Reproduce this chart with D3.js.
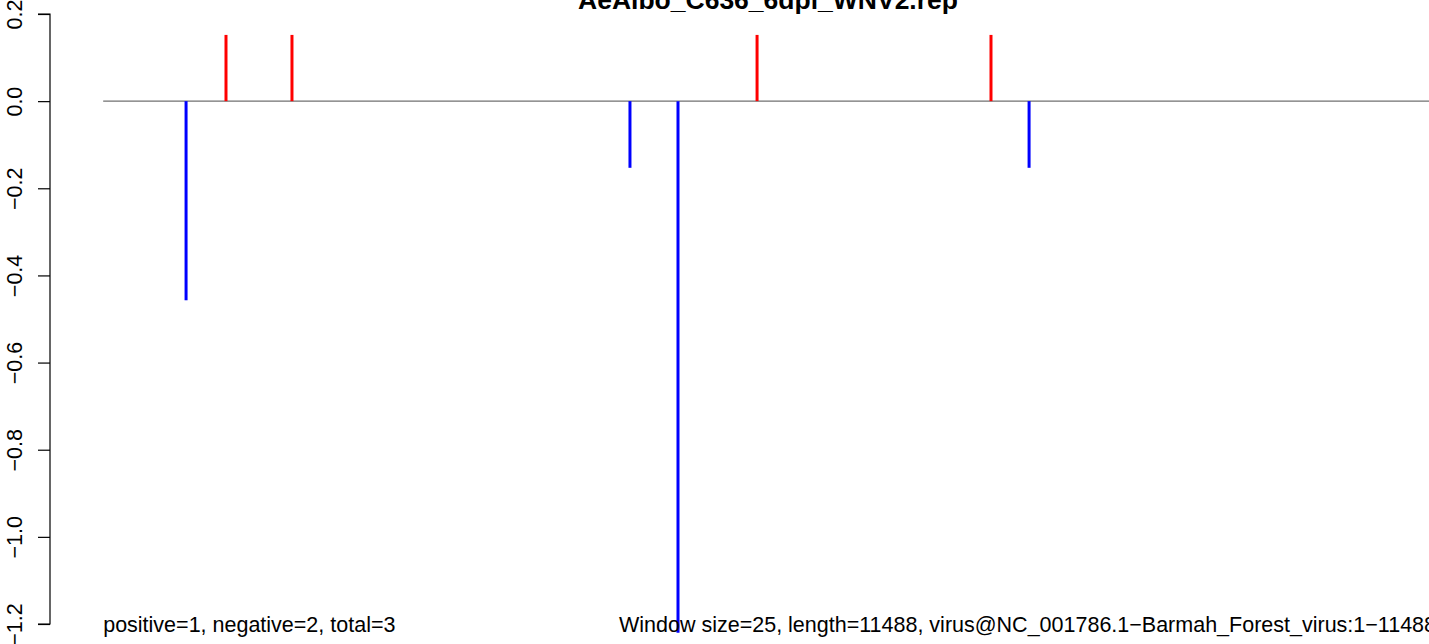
<!DOCTYPE html>
<html><head><meta charset="utf-8">
<script src="https://cdn.jsdelivr.net/npm/d3@7"></script>
<style>html,body{margin:0;padding:0;background:#fff;overflow:hidden}</style>
</head><body>
<svg id="chart" width="1429" height="644"></svg>
<script>
const seqLength = 11488;
const positions = [717, 1062, 1632, 4552, 4967, 5650, 7671, 8000];
const values    = [-0.457, 0.152, 0.152, -0.153, -1.22, 0.152, 0.152, -0.153];
const yTicks = [0.2, 0.0, -0.2, -0.4, -0.6, -0.8, -1.0, -1.2];
const titleText = "AeAlbo_C636_6dpi_WNV2.rep";
const leftNote = "positive=1, negative=2, total=3";
const rightNote = "Window size=25, length=11488, virus@NC_001786.1\u2212Barmah_Forest_virus:1\u221211488";

const svg = d3.select("#chart");
const font = "'Liberation Sans', Arial, Helvetica, sans-serif";
const pad = 0.04 * (seqLength - 1);
const x = d3.scaleLinear().domain([1 - pad, seqLength + pad]).range([50, 1486]);
const y = d3.scaleLinear().domain([0.2, -1.2]).range([14, 624]);

// zero line
svg.append("line")
  .attr("x1", x(1)).attr("x2", x(seqLength))
  .attr("y1", y(0)).attr("y2", y(0))
  .attr("stroke", "#707070").attr("stroke-width", 1.3);

// bars
svg.selectAll("line.bar").data(positions.map((p, i) => ({p, v: values[i]})))
  .enter().append("line").attr("class", "bar")
  .attr("x1", d => x(d.p)).attr("x2", d => x(d.p))
  .attr("y1", y(0)).attr("y2", d => y(d.v))
  .attr("stroke", d => d.v > 0 ? "#ff0000" : "#0000ff")
  .attr("stroke-width", 3);

// y axis
const yAxis = d3.axisLeft(y).tickValues(yTicks).tickSize(12).tickPadding(16)
  .tickFormat(d => d === 0 ? "0.0" : d3.format(".1f")(d).replace("-", "\u2212"));
const g = svg.append("g").attr("transform", "translate(50,0)").call(yAxis);
g.select(".domain").attr("d", `M-12,${y(0.2)}H0V${y(-1.2)}H-12`).attr("stroke", "#000").attr("stroke-width", 1.2).attr("fill", "none");
g.selectAll(".tick line").attr("stroke", "#000").attr("stroke-width", 1.2);
g.selectAll(".tick text")
  .attr("font-family", font).attr("font-size", 21.5).attr("fill", "#000")
  .attr("text-anchor", "middle")
  .attr("x", 0).attr("y", 0).attr("dy", 0)
  .attr("transform", "translate(-28,0) rotate(-90)");

// title
svg.append("text").attr("x", 768).attr("y", 9)
  .attr("text-anchor", "middle").attr("font-family", font)
  .attr("font-weight", "bold").attr("font-size", 26.5).text(titleText);

svg.append("text").attr("x", x(1)).attr("y", 632)
  .attr("font-family", font).attr("font-size", 21.5).text(leftNote);
svg.append("text").attr("x", 619).attr("y", 632)
  .attr("font-family", font).attr("font-size", 21.5).text(rightNote);
</script>
</body></html>
